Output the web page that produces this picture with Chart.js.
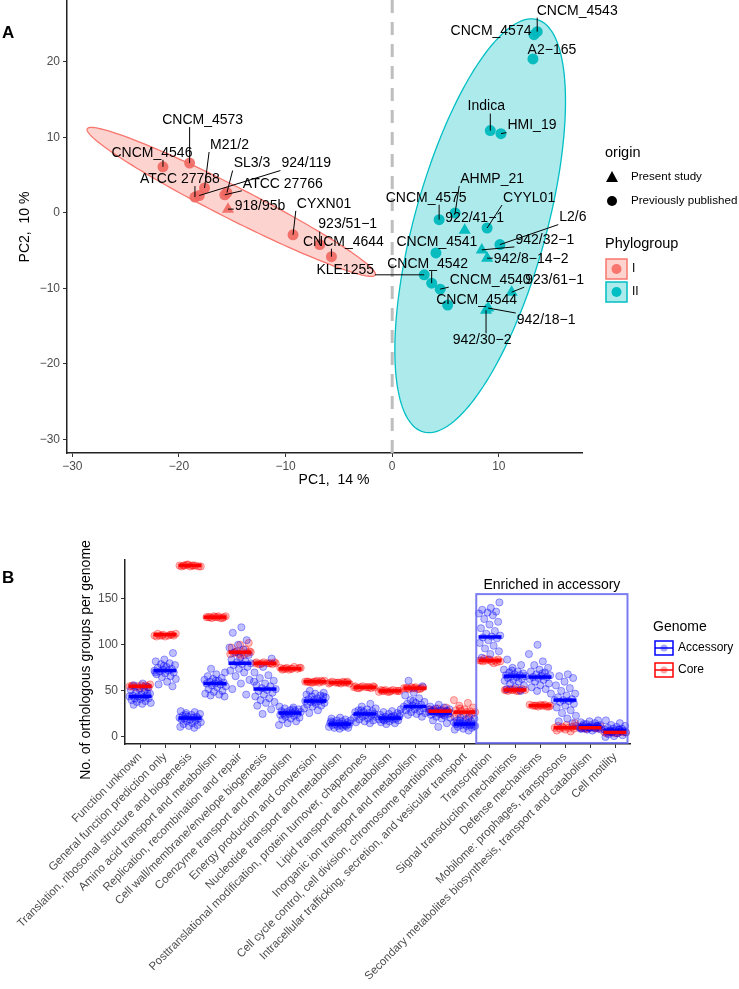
<!DOCTYPE html>
<html lang="en">
<head>
<meta charset="UTF-8">
<title>PCA of strains and COG categories per genome</title>
<script src="https://cdn.jsdelivr.net/npm/chart.js"></script>
<style>
  body { margin: 0; background: #fff; }
  #wrap { position: relative; width: 739px; height: 989px; }
  canvas { position: absolute; left: 0; }
  #pca { top: 0; width: 739px; height: 500px; }
  #cog { top: 500px; width: 739px; height: 489px; }
</style>
</head>
<body>
<div id="wrap">
  <canvas id="pca" width="739" height="500"></canvas>
  <canvas id="cog" width="739" height="489"></canvas>
</div>
<script>
const FONT = '"Liberation Sans", Arial, Helvetica, sans-serif';
Chart.defaults.font.family = FONT;

// ---------- Panel A : PCA ----------
const strains = ['CNCM_4546','CNCM_4573','M21/2','ATCC 27768','SL3/3','924/119','ATCC 27766','918/95b','CYXN01','923/51\u22121','CNCM_4644',
  'CNCM_4543','CNCM_4574','A2\u2212165','Indica','HMI_19','AHMP_21','CNCM_4575','922/41\u22121','CYYL01','L2/6','942/32\u22121',
  'CNCM_4541','942/8\u221214\u22122','KLE1255','CNCM_4542','CNCM_4540','923/61\u22121','CNCM_4544','942/18\u22121','942/30\u22122'];
const pc1 = [-21.5,-19.0,-17.6,-18.5,-15.5,-18.1,-15.7,-15.4,-9.3,-6.8,-5.7,
  13.6,13.3,13.2,9.2,10.2,5.9,4.4,6.8,8.9,10.1,8.4,4.1,8.9,3.0,3.7,4.5,11.2,5.2,9.0,8.8];
const pc2 = [6.1,6.6,3.3,2.1,2.7,2.3,2.4,0.5,-2.9,-4.2,-5.8,
  24.0,23.6,20.4,10.9,10.5,0.0,-0.9,-2.3,-2.0,-4.2,-4.9,-5.3,-6.0,-8.2,-9.3,-10.1,-10.5,-12.2,-12.6,-12.9];
const phylogroup = ['I','I','I','I','I','I','I','I','I','I','I',
  'II','II','II','II','II','II','II','II','II','II','II','II','II','II','II','II','II','II','II','II'];
const origin = ['prev','prev','prev','prev','prev','prev','prev','present','prev','prev','prev',
  'prev','prev','prev','prev','prev','prev','prev','present','prev','prev','present','prev','present','prev','prev','prev','present','prev','present','present'];
const pcaXTicks = [-30,-20,-10,0,10];
const pcaYTicks = [-30,-20,-10,0,10,20];

// confidence ellipses: centre and half-axis vectors, in PC units
const ellipseI  = { cx: -15.1, cy: 1.46, ax: 13.5, ay: -9.68, bx: -0.68, by: -1.9 };
const ellipseII = { cx: 8.25, cy: -1.7, ax: 5.34, ay: 27.3, bx: 5.96, by: -2.33 };

// label placement (pixel offsets of the label centre from its point, repel-style)
const labelOffsets = [[-11,-14],[13,-43],[25,-43],[-15,-18],[25,-29],[107,-32],[58,-11],[32,-3],[31,-31],[28,-20],[12,-15],
  [40,-21],[-43,-4],[19,-9],[-4,-24],[31,-8],[37,-34],[-13,-22],[10,-12],[42,-30],[73,-27],[63,-10],
  [1,-11],[44,1],[-79,-5],[-4,-19],[50,-9],[43,-12],[29,-5],[58,12],[-4,30]];

const RED = '#F8766D', CYAN = '#00BFC4';

function pick(grp, org) {
  const out = [];
  strains.forEach((s, i) => {
    if (phylogroup[i] === grp && origin[i] === org) out.push({ x: pc1[i], y: pc2[i] });
  });
  return out;
}
const minus = v => String(v).replace('-', '\u2212');

const pcaBackground = {
  id: 'pcaBackground',
  beforeDatasetsDraw(chart) {
    const ctx = chart.ctx, xs = chart.scales.x, ys = chart.scales.y, a = chart.chartArea;
    function ellipse(e, fill, stroke) {
      ctx.beginPath();
      for (let k = 0; k <= 180; k++) {
        const t = k / 180 * Math.PI * 2;
        const px = xs.getPixelForValue(e.cx + e.ax * Math.cos(t) + e.bx * Math.sin(t));
        const py = ys.getPixelForValue(e.cy + e.ay * Math.cos(t) + e.by * Math.sin(t));
        k ? ctx.lineTo(px, py) : ctx.moveTo(px, py);
      }
      ctx.closePath();
      ctx.fillStyle = fill; ctx.fill();
      ctx.strokeStyle = stroke; ctx.lineWidth = 1.3; ctx.stroke();
    }
    ctx.save();
    ellipse(ellipseI, 'rgba(248,118,109,0.32)', RED);
    ellipse(ellipseII, 'rgba(0,191,196,0.32)', CYAN);
    const x0 = xs.getPixelForValue(0);
    ctx.setLineDash([13, 9]);
    ctx.strokeStyle = '#BEBEBE'; ctx.lineWidth = 3;
    ctx.beginPath(); ctx.moveTo(x0, a.top); ctx.lineTo(x0, a.bottom); ctx.stroke();
    ctx.restore();
  }
};

const pcaLabels = {
  id: 'pcaLabels',
  afterDatasetsDraw(chart) {
    const ctx = chart.ctx, xs = chart.scales.x, ys = chart.scales.y;
    ctx.save();
    ctx.font = '14px ' + FONT;
    ctx.textAlign = 'center'; ctx.textBaseline = 'middle';
    strains.forEach((name, i) => {
      const px = xs.getPixelForValue(pc1[i]), py = ys.getPixelForValue(pc2[i]);
      const lx = px + labelOffsets[i][0], ly = py + labelOffsets[i][1];
      const w = ctx.measureText(name).width, h = 14;
      const bx = Math.max(lx - w / 2 - 1, Math.min(px, lx + w / 2 + 1));
      const by = Math.max(ly - h / 2, Math.min(py, ly + h / 2));
      if (Math.hypot(bx - px, by - py) > 5) {
        ctx.strokeStyle = '#000'; ctx.lineWidth = 1;
        ctx.beginPath(); ctx.moveTo(px, py); ctx.lineTo(bx, by); ctx.stroke();
      }
      ctx.fillStyle = '#000';
      ctx.fillText(name, lx, ly);
    });
    ctx.restore();
  },
  afterDraw(chart) {
    const ctx = chart.ctx;
    ctx.save();
    ctx.fillStyle = '#000';
    ctx.font = 'bold 17px ' + FONT;
    ctx.textAlign = 'left'; ctx.textBaseline = 'middle';
    ctx.fillText('A', 2, 33);
    // axis titles
    ctx.font = '14px ' + FONT;
    ctx.textAlign = 'center';
    ctx.fillText('PC1,  14 %', 334, 480);
    ctx.save(); ctx.translate(25, 227); ctx.rotate(-Math.PI / 2);
    ctx.fillText('PC2,  10 %', 0, 0); ctx.restore();
    // legend: origin
    ctx.textAlign = 'left';
    ctx.font = '14.5px ' + FONT;
    ctx.fillText('origin', 605, 153);
    ctx.fillStyle = '#000';
    ctx.beginPath(); ctx.moveTo(612, 171); ctx.lineTo(618, 182); ctx.lineTo(606, 182); ctx.closePath(); ctx.fill();
    ctx.beginPath(); ctx.arc(612, 201, 5, 0, Math.PI * 2); ctx.fill();
    ctx.font = '11.6px ' + FONT;
    ctx.fillText('Present study', 631, 177);
    ctx.fillText('Previously published', 631, 201);
    // legend: phylogroup
    ctx.font = '14.5px ' + FONT;
    ctx.fillText('Phylogroup', 605, 244);
    [['I', 'rgba(248,118,109,0.32)', RED, 259], ['II', 'rgba(0,191,196,0.32)', CYAN, 282]].forEach(([lab, fill, col, y]) => {
      ctx.fillStyle = fill; ctx.fillRect(606, y, 21, 20);
      ctx.strokeStyle = col; ctx.lineWidth = 1.5; ctx.strokeRect(606, y, 21, 20);
      ctx.fillStyle = col; ctx.beginPath(); ctx.arc(616.5, y + 10, 5, 0, Math.PI * 2); ctx.fill();
      ctx.fillStyle = '#000'; ctx.font = '12px ' + FONT;
      ctx.fillText(lab, 632, y + 10);
    });
    ctx.restore();
  }
};

const axisStyle = {
  grid: { drawOnChartArea: false, drawTicks: true, tickLength: 4, color: '#333', lineWidth: 1 },
  border: { display: true, color: '#222', width: 1.5 }
};
// fixed axis sizes, no extra label overflow padding (panel edges set by layout)
function fixHeight(h) { return s => { s.height = h; s.paddingLeft = 0; s.paddingRight = 0; }; }
function fixWidth(w) { return s => { s.width = w; s.paddingTop = 0; s.paddingBottom = 0; }; }

new Chart(document.getElementById('pca'), {
  type: 'scatter',
  data: {
    datasets: [
      { data: pick('I', 'prev'), pointStyle: 'circle', pointRadius: 5.5, backgroundColor: 'rgba(240,104,96,0.9)', borderWidth: 0 },
      { data: pick('I', 'present'), pointStyle: 'triangle', pointRadius: 7, backgroundColor: 'rgba(240,104,96,0.9)', borderWidth: 0 },
      { data: pick('II', 'prev'), pointStyle: 'circle', pointRadius: 5.5, backgroundColor: 'rgba(0,185,190,0.95)', borderWidth: 0 },
      { data: pick('II', 'present'), pointStyle: 'triangle', pointRadius: 7, backgroundColor: 'rgba(0,185,190,0.95)', borderWidth: 0 }
    ]
  },
  options: {
    responsive: false, animation: false,
    layout: { autoPadding: false, padding: { left: 0, right: 157, top: 0, bottom: 0 } },
    plugins: { legend: { display: false }, tooltip: { enabled: false } },
    scales: {
      x: {
        type: 'linear', min: -30.5, max: 17.8,
        afterBuildTicks: s => { s.ticks = pcaXTicks.map(v => ({ value: v })); },
        afterFit: fixHeight(47),
        ticks: { callback: minus, color: '#4d4d4d', font: { size: 12 }, padding: 2 },
        ...axisStyle
      },
      y: {
        type: 'linear', min: -31.8, max: 28.2,
        afterBuildTicks: s => { s.ticks = pcaYTicks.map(v => ({ value: v })); },
        afterFit: fixWidth(67),
        ticks: { callback: minus, color: '#4d4d4d', font: { size: 12 }, padding: 3 },
        ...axisStyle
      }
    }
  },
  plugins: [pcaBackground, pcaLabels]
});

// ---------- Panel B : orthologous groups per COG category ----------
const cogCategories = ['Function unknown','General function prediction only','Translation, ribosomal structure and biogenesis',
  'Amino acid transport and metabolism','Replication, recombination and repair','Cell wall/membrane/envelope biogenesis',
  'Coenzyme transport and metabolism','Energy production and conversion','Nucleotide transport and metabolism',
  'Posttranslational modification, protein turnover, chaperones','Lipid transport and metabolism',
  'Inorganic ion transport and metabolism','Cell cycle control, cell division, chromosome partitioning',
  'Intracellular trafficking, secretion, and vesicular transport','Transcription','Signal transduction mechanisms',
  'Defense mechanisms','Mobilome: prophages, transposons','Secondary metabolites biosynthesis, transport and catabolism','Cell motility'];

const accessoryMedian = [44,72,20.5,58,80,52,26,39,14,25,20.5,33,26,14,108.5,66,65,40,11,7];
const coreMedian = [55,111,186,130,92,80,74,60,59,54,50,53,28,27,83,51,34,10,10,5];

const accessoryCounts = [
  [58,56,54,52,51,50,48,47,46,45,45,44,44,43,42,42,41,40,39,38,37,36,35,47],
  [91,84,82,80,79,78,76,75,74,73,72,72,71,70,69,68,66,65,63,60,57,55,77,70],
  [28,27,26,25,24,23,22,22,21,21,20,20,19,19,18,17,16,15,14,13,12,11,10,24],
  [74,70,68,66,64,63,62,61,60,59,58,58,57,56,55,54,52,50,49,47,46,45,44,61],
  [119,113,105,100,97,95,92,89,86,84,82,81,80,79,78,76,74,72,70,66,62,58,52,46],
  [85,76,70,67,64,61,58,56,55,53,52,51,50,48,46,44,42,40,38,37,34,30,25,60],
  [33,32,31,30,29,28,28,27,27,26,26,25,25,24,23,22,21,20,19,17,15,13,30,24],
  [50,48,47,46,45,44,43,42,41,40,40,39,39,38,37,36,35,34,33,31,29,26,44,38],
  [21,20,19,18,18,17,16,16,15,15,14,14,14,13,13,12,12,11,11,10,10,9,17,13],
  [36,33,31,30,29,28,27,27,26,25,25,24,24,23,22,21,20,19,18,17,16,15,29,22],
  [30,28,27,26,25,24,23,22,22,21,21,20,20,19,19,18,18,17,16,15,14,25,22,19],
  [61,55,48,45,42,40,38,37,36,35,34,33,33,32,31,30,29,28,27,26,25,24,22,39],
  [35,33,32,31,30,29,28,28,27,27,26,26,25,25,24,23,22,21,20,18,15,11,30,24],
  [22,21,20,19,18,17,16,16,15,15,14,14,14,13,13,12,12,11,10,9,8,7,18,12],
  [146,140,138,136,135,134,132,128,125,122,118,115,112,110,109,108,107,105,102,99,96,93,90,86],
  [84,78,75,73,71,70,69,68,67,67,66,66,65,64,63,62,61,60,58,56,54,52,50,72],
  [100,90,82,78,75,73,71,70,68,67,66,65,65,64,63,62,60,58,56,54,52,50,47,69],
  [68,66,64,60,56,53,50,47,45,43,41,40,40,39,38,36,34,32,29,26,23,20,17,15],
  [18,17,16,15,14,13,13,12,12,11,11,11,10,10,10,9,9,8,8,7,14,12,10,9],
  [18,15,13,12,11,10,9,9,8,8,7,7,7,6,6,5,5,4,3,2,1,0,8,6]
];
const coreCounts = [
  [57,56,56,55,55,55,54,54,54,53,55,56],
  [112,111,111,110,110,110,110,109,109,111,110,112],
  [187,186,186,186,185,185,185,186,187,185,186,186],
  [131,130,130,130,130,129,129,131,130,130,129,131],
  [102,100,97,95,93,92,92,91,91,90,90,89,92,93,88],
  [81,80,80,80,80,79,79,81,80,80,79,81],
  [75,75,74,74,74,73,75,76,74,75,74,73],
  [61,60,60,60,60,59,59,61,60,60,61,59],
  [60,59,59,59,59,58,58,60,59,59,58,60],
  [55,54,54,54,54,53,53,55,54,54,53,55],
  [51,50,50,50,50,49,49,51,50,50,49,51],
  [54,53,53,53,53,52,52,54,53,53,52,54],
  [32,31,30,29,29,28,28,28,27,27,26,25,29,28],
  [40,37,34,32,30,29,28,28,27,27,26,25,24,22,20,31],
  [85,84,84,83,83,83,82,82,82,81,84,83,80],
  [52,51,51,51,51,50,50,52,51,51,50,52],
  [35,34,34,34,34,33,33,35,34,34,33,35],
  [15,13,12,11,10,10,10,9,9,8,7,6,11,12],
  [11,10,10,10,10,9,9,11,10,10,9,11],
  [6,5,5,5,5,4,4,6,5,5,4,6]
];
const cogYTicks = [0,50,100,150];
const enrichedBox = { x0: 13.45, x1: 19.5, y0: -6.5, y1: 155 };

// deterministic horizontal spread inside a category band (layout only)
function jitterOffset(i, k) {
  const f = ((k + 1) * 0.6180339887 + i * 0.2357) % 1;
  return (f - 0.5) * 0.9;
}
const accPoints = [], corePoints = [];
cogCategories.forEach((c, i) => {
  accessoryCounts[i].forEach((v, k) => accPoints.push({ x: i + jitterOffset(i, k), y: v }));
  coreCounts[i].forEach((v, k) => corePoints.push({ x: i + jitterOffset(i, k + 7), y: v }));
});

const cogOverlay = {
  id: 'cogOverlay',
  afterDatasetsDraw(chart) {
    const ctx = chart.ctx, xs = chart.scales.x, ys = chart.scales.y;
    ctx.save();
    ctx.lineWidth = 3.5;
    [[accessoryMedian, '#0000FF'], [coreMedian, '#FF0000']].forEach(([med, col]) => {
      ctx.strokeStyle = col;
      med.forEach((m, i) => {
        ctx.beginPath();
        ctx.moveTo(xs.getPixelForValue(i - 0.46), ys.getPixelForValue(m));
        ctx.lineTo(xs.getPixelForValue(i + 0.46), ys.getPixelForValue(m));
        ctx.stroke();
      });
    });
    // enriched box
    const bx0 = xs.getPixelForValue(enrichedBox.x0), bx1 = xs.getPixelForValue(enrichedBox.x1);
    const by0 = ys.getPixelForValue(enrichedBox.y1), by1 = ys.getPixelForValue(enrichedBox.y0);
    ctx.strokeStyle = 'rgba(100,100,240,0.85)'; ctx.lineWidth = 2;
    ctx.strokeRect(bx0, by0, bx1 - bx0, by1 - by0);
    ctx.fillStyle = '#000'; ctx.font = '14px ' + FONT;
    ctx.textAlign = 'center'; ctx.textBaseline = 'middle';
    ctx.fillText('Enriched in accessory', (bx0 + bx1) / 2, by0 - 9);
    ctx.restore();
  },
  afterDraw(chart) {
    const ctx = chart.ctx;
    ctx.save();
    ctx.fillStyle = '#000';
    ctx.font = 'bold 17px ' + FONT;
    ctx.textAlign = 'left'; ctx.textBaseline = 'middle';
    ctx.fillText('B', 2, 78);
    ctx.font = '14px ' + FONT; ctx.textAlign = 'center';
    ctx.save(); ctx.translate(86, 160); ctx.rotate(-Math.PI / 2);
    ctx.fillText('No. of orthologous groups per genome', 0, 0); ctx.restore();
    // legend
    ctx.textAlign = 'left';
    ctx.fillText('Genome', 653, 127);
    [['Accessory', '0,0,255', 141], ['Core', '255,0,0', 163]].forEach(([lab, rgb, y]) => {
      ctx.strokeStyle = 'rgb(' + rgb + ')'; ctx.lineWidth = 1.5;
      ctx.strokeRect(655, y, 18, 14);
      ctx.beginPath(); ctx.moveTo(655, y + 7); ctx.lineTo(673, y + 7); ctx.stroke();
      ctx.fillStyle = 'rgba(' + rgb + ',0.35)';
      ctx.beginPath(); ctx.arc(664, y + 7, 3.5, 0, Math.PI * 2); ctx.fill();
      ctx.fillStyle = '#000'; ctx.font = '12px ' + FONT;
      ctx.fillText(lab, 678, y + 7);
    });
    ctx.restore();
  }
};

new Chart(document.getElementById('cog'), {
  type: 'scatter',
  data: {
    datasets: [
      { label: 'Accessory', data: accPoints, pointRadius: 3.6, backgroundColor: 'rgba(0,0,255,0.25)', borderColor: 'rgba(0,0,255,0.35)', borderWidth: 1 },
      { label: 'Core', data: corePoints, pointRadius: 3.6, backgroundColor: 'rgba(255,0,0,0.25)', borderColor: 'rgba(255,0,0,0.35)', borderWidth: 1 }
    ]
  },
  options: {
    responsive: false, animation: false,
    layout: { autoPadding: false, padding: { left: 0, right: 109, top: 60, bottom: 0 } },
    plugins: { legend: { display: false }, tooltip: { enabled: false } },
    scales: {
      x: {
        type: 'linear', min: -0.6, max: 19.6,
        afterBuildTicks: s => { s.ticks = cogCategories.map((c, i) => ({ value: i })); },
        afterFit: fixHeight(245),
        ticks: { autoSkip: false, minRotation: 45, maxRotation: 45, callback: (v, idx) => cogCategories[idx],
                 color: '#4d4d4d', font: { size: 11.5 }, padding: 2 },
        ...axisStyle
      },
      y: {
        type: 'linear', min: -7.6, max: 192,
        afterBuildTicks: s => { s.ticks = cogYTicks.map(v => ({ value: v })); },
        afterFit: fixWidth(125),
        ticks: { color: '#4d4d4d', font: { size: 12 }, padding: 3 },
        ...axisStyle
      }
    }
  },
  plugins: [cogOverlay]
});
</script>
</body>
</html>
